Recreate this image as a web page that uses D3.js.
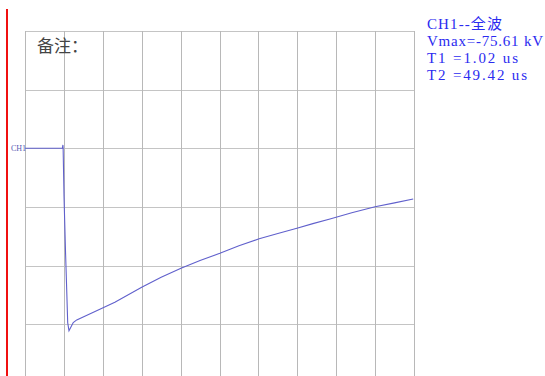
<!DOCTYPE html>
<html>
<head>
<meta charset="utf-8">
<script src="https://cdn.jsdelivr.net/npm/d3@7/dist/d3.min.js"></script>
<style>
  html, body { margin: 0; padding: 0; background: #fff; overflow: hidden; }
  svg { display: block; }
</style>
</head>
<body>
<script>
// Impulse record: time in microseconds, voltage in kV
const timeUs = [0, 5, 9.6, 9.75, 9.8, 10.03, 10.4, 10.72, 10.98, 11.31, 12.4, 13.3, 18.0, 23.1, 30.0, 35.0, 40.1, 45.0, 50.1, 55.0, 60.2, 65.0, 69.9, 74.0, 78.4, 84.0, 90.0, 95.0, 99.8];
const voltKv = [0, 0, 0, 1.4, 0.3, -20.0, -42.0, -58.6, -72.3, -75.61, -72.2, -71.1, -67.6, -63.8, -57.6, -53.4, -49.7, -46.5, -43.5, -40.4, -37.5, -35.3, -33.1, -31.2, -29.3, -26.7, -24.2, -22.6, -21.0];

// Readout text
const channelTitle = "CH1--全波";
const vmaxText = "Vmax=-75.61 kV";
const t1Text = "T1 =1.02 us";
const t2Text = "T2 =49.42 us";
const noteText = "备注：";
const channelTag = "CH1";

// Screen grid: 10 divisions of 10 us across, 8 divisions vertically
const xTicks = d3.range(0, 101, 10);
const kvPerDiv = 24.3;
const yDivs = d3.range(-2, 7); // divisions relative to the zero line (positive = below)

const W = 545, H = 376;
const svg = d3.select("body").append("svg").attr("width", W).attr("height", H);

const x = d3.scaleLinear().domain([0, 100]).range([25, 414]);
const y = d3.scaleLinear().domain([2 * kvPerDiv, -6 * kvPerDiv]).range([31, 31 + 8 * 58.65]);

// red margin bar
svg.append("line")
  .attr("x1", 7).attr("x2", 7).attr("y1", 9).attr("y2", H)
  .attr("stroke", "#f01010").attr("stroke-width", 2);

// grid
const grid = svg.append("g");
grid.selectAll("line.h").data(yDivs).join("line")
  .attr("class", "h")
  .attr("x1", x(0)).attr("x2", x(100))
  .attr("y1", d => Math.round(y(-d * kvPerDiv)) + 0.5)
  .attr("y2", d => Math.round(y(-d * kvPerDiv)) + 0.5)
  .attr("stroke", "#c4c4c4").attr("stroke-width", 1);
grid.selectAll("line.v").data(xTicks).join("line")
  .attr("class", "v")
  .attr("x1", d => Math.round(x(d)) + 0.5).attr("x2", d => Math.round(x(d)) + 0.5)
  .attr("y1", y(2 * kvPerDiv)).attr("y2", y(-6 * kvPerDiv))
  .attr("stroke", "#b8b8b8").attr("stroke-width", 1);

// waveform
const line = d3.line().x((d, i) => x(timeUs[i])).y(d => y(d));
svg.append("path")
  .datum(voltKv)
  .attr("d", line)
  .attr("fill", "none")
  .attr("stroke", "#6060cc")
  .attr("stroke-width", 1.1);

// channel tag at the zero line
svg.append("text")
  .attr("x", 11).attr("y", y(0) + 2.5)
  .attr("font-family", "Liberation Serif, serif")
  .attr("font-size", 8)
  .attr("fill", "#5a5ab4")
  .text(channelTag);

// note label
svg.append("text")
  .attr("x", 37).attr("y", 52)
  .attr("font-family", "Noto Sans CJK SC, sans-serif")
  .attr("font-size", 17)
  .attr("fill", "#444")
  .text(noteText);

// readout block
const readout = [
  { text: channelTitle, len: 75 },
  { text: vmaxText, len: 116 },
  { text: t1Text, len: 91 },
  { text: t2Text, len: 100 }
];
svg.append("g").selectAll("text").data(readout).join("text")
  .attr("x", 427)
  .attr("y", (d, i) => 29 + i * 17)
  .attr("font-family", "Liberation Serif, Noto Sans CJK SC, serif")
  .attr("font-size", 15)
  .attr("fill", "#2b2bf0")
  .attr("textLength", d => d.len)
  .attr("lengthAdjust", "spacing")
  .text(d => d.text);
</script>
</body>
</html>
